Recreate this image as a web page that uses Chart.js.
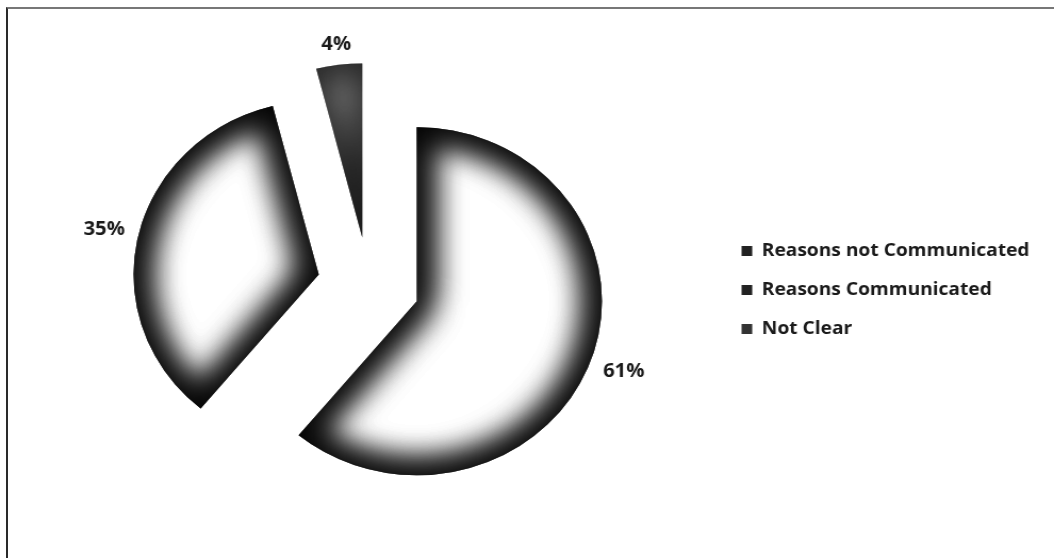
<!DOCTYPE html>
<html><head><meta charset="utf-8">
<script src="https://cdn.jsdelivr.net/npm/chart.js@4.4.1/dist/chart.umd.min.js"></script>
<style>
html,body{margin:0;padding:0;background:#fff;}
#wrap{position:relative;width:1054px;height:558px;overflow:hidden;}
#frame{position:absolute;left:6px;top:7px;width:1100px;height:600px;border-top:2px solid #777;border-left:2px solid #2a2a2a;}
#c{position:absolute;left:0;top:0;width:1054px;height:558px;}
</style></head><body>
<div id="wrap"><div id="frame"></div><canvas id="c" width="990" height="558" style="width:1054px;height:558px;"></canvas></div>
<script>
// ---- data ----
const categories = ['Reasons not Communicated', 'Reasons Communicated', 'Not Clear'];
const values = [61, 35, 4];
const legendColors = ['#222222', '#222222', '#333333'];

const EXPLODE = 48;
const LABEL_FONT = 'bold 19px "Open Sans"';

function sector(ctx, x, y, r, a0, a1) {
  ctx.moveTo(x, y);
  ctx.arc(x, y, r, a0, a1);
  ctx.closePath();
}

const explodedShaded = {
  id: 'explodedShaded',
  beforeDatasetDraw(chart, args) {
    const ctx = chart.ctx;
    args.meta.data.forEach((arc) => {
      const p = arc.getProps(['x', 'y', 'startAngle', 'endAngle', 'outerRadius'], true);
      const mid = (p.startAngle + p.endAngle) / 2;
      const narrow = (p.endAngle - p.startAngle) < 0.6;
      ctx.save();
      ctx.translate(Math.cos(mid) * EXPLODE, Math.sin(mid) * EXPLODE);
      arc.draw(ctx, chart.chartArea);
      // soft dark rim inside the slice (path-gradient look)
      ctx.beginPath();
      sector(ctx, p.x, p.y, p.outerRadius, p.startAngle, p.endAngle);
      ctx.clip();
      const K = 20000;
      ctx.shadowColor = narrow ? 'rgba(0,0,0,0.6)' : '#000';
      ctx.shadowBlur = 34;
      ctx.shadowOffsetX = K;
      ctx.shadowOffsetY = 0;
      ctx.fillStyle = '#000';
      ctx.strokeStyle = '#000';
      ctx.lineWidth = 16;
      ctx.lineJoin = 'round';
      for (let k = 0; k < 2; k++) {
        ctx.beginPath();
        ctx.rect(p.x - K - 1500, p.y - 1500, 3000, 3000);
        sector(ctx, p.x - K, p.y, p.outerRadius, p.startAngle, p.endAngle);
        ctx.fill('evenodd');
        ctx.beginPath();
        sector(ctx, p.x - K, p.y, p.outerRadius, p.startAngle, p.endAngle);
        ctx.stroke();
      }
      ctx.restore();
    });
    return false;
  }
};

const outsideLabels = {
  id: 'outsideLabels',
  afterDatasetsDraw(chart) {
    const ctx = chart.ctx;
    const meta = chart.getDatasetMeta(0);
    const total = values.reduce((a, b) => a + b, 0);
    ctx.save();
    ctx.font = LABEL_FONT;
    ctx.fillStyle = '#1a1a1a';
    ctx.textAlign = 'center';
    ctx.textBaseline = 'middle';
    meta.data.forEach((arc, i) => {
      const p = arc.getProps(['x', 'y', 'startAngle', 'endAngle', 'outerRadius'], true);
      const mid = (p.startAngle + p.endAngle) / 2;
      const txt = Math.round(values[i] / total * 100) + '%';
      const w = ctx.measureText(txt).width, h = 14;
      const c = Math.cos(mid), s = Math.sin(mid);
      const d = EXPLODE + p.outerRadius + 12 + Math.abs(c) * w / 2 + Math.abs(s) * h / 2;
      ctx.fillText(txt, p.x + c * d, p.y + s * d);
    });
    ctx.restore();
  }
};

new Chart(document.getElementById('c'), {
  type: 'pie',
  data: {
    labels: categories,
    datasets: [{
      data: values,
      backgroundColor: '#ffffff',
      borderWidth: 0,
      radius: 174
    }]
  },
  options: {
    responsive: false,
    animation: false,
    layout: { padding: { left: 17, top: 12, right: 13, bottom: 0 } },
    plugins: {
      tooltip: { enabled: false },
      legend: {
        position: 'right',
        title: { display: true, text: ' ', font: { size: 1, lineHeight: 1 }, padding: { top: 9, bottom: 0 } },
        labels: {
          font: { family: 'Open Sans', size: 18, weight: 'bold' },
          color: '#1a1a1a',
          boxWidth: 10,
          boxHeight: 10,
          padding: 21,
          generateLabels: () => categories.map((t, i) => ({
            text: t, fillStyle: legendColors[i], strokeStyle: legendColors[i],
            lineWidth: 0, hidden: false, index: i, fontColor: '#1a1a1a'
          }))
        }
      }
    }
  },
  plugins: [explodedShaded, outsideLabels]
});
</script>
</body></html>
